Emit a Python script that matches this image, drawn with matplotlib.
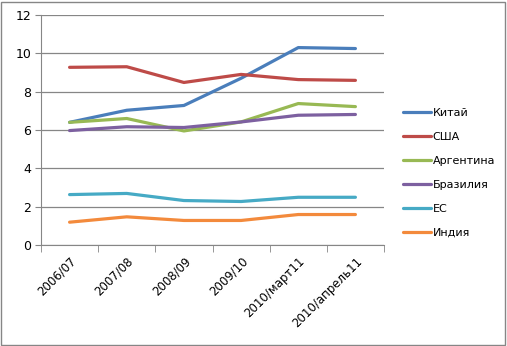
import numpy as np
import matplotlib.pyplot as plt
from matplotlib.patches import Rectangle

periods = ['2006/07', '2007/08', '2008/09', '2009/10', '2010/март11', '2010/апрель11']
china = [6.4, 7.03, 7.28, 8.7, 10.3, 10.25]
usa = [9.27, 9.3, 8.48, 8.9, 8.63, 8.59]
argentina = [6.4, 6.6, 5.95, 6.42, 7.38, 7.22]
brazil = [5.97, 6.17, 6.13, 6.42, 6.77, 6.81]
eu = [2.63, 2.69, 2.32, 2.27, 2.49, 2.49]
india = [1.19, 1.47, 1.28, 1.28, 1.59, 1.59]

series = [('Китай', china, '#4A7EBB'),
          ('США', usa, '#BE4B48'),
          ('Аргентина', argentina, '#98B954'),
          ('Бразилия', brazil, '#7D60A0'),
          ('ЕС', eu, '#46AAC5'),
          ('Индия', india, '#F38A3C')]

fig = plt.figure(figsize=(5.07, 3.46), dpi=100)
ax = fig.add_axes([41/507, 1-245/346, 343/507, 230/346])

x = np.arange(len(periods))
for name, vals, col in series:
    ax.plot(x, vals, color=col, lw=2.3, label=name, solid_capstyle='round')

ax.set_xlim(-0.5, len(periods) - 0.5)
ax.set_ylim(0, 12)
ax.set_yticks(range(0, 13, 2))
ax.yaxis.grid(True, color='#868686', lw=0.9)
ax.set_axisbelow(True)

ax.set_xticks(x)
ax.set_xticklabels(periods, rotation=45, ha='right', rotation_mode='anchor', fontsize=8.5)
ax.set_xticks(np.arange(-0.5, len(periods)), minor=True)
ax.tick_params(axis='x', which='major', length=0, pad=7)
ax.tick_params(axis='x', which='minor', length=5, color='#868686')
ax.tick_params(axis='y', length=4, color='#868686', labelsize=9, pad=3)

for s in ['top', 'right']:
    ax.spines[s].set_visible(False)
for s in ['left', 'bottom']:
    ax.spines[s].set_color('#868686')

fig.legend(loc='upper left', bbox_to_anchor=(393/507, 1-98/346), frameon=False,
           fontsize=8, handlelength=2.5, handletextpad=0.15, labelspacing=1.25)

fig.add_artist(Rectangle((1/507, 1/346), 504/507, 343/346, transform=fig.transFigure,
                         fill=False, edgecolor='#868686', lw=1))

fig.savefig('out.png', dpi=100)
